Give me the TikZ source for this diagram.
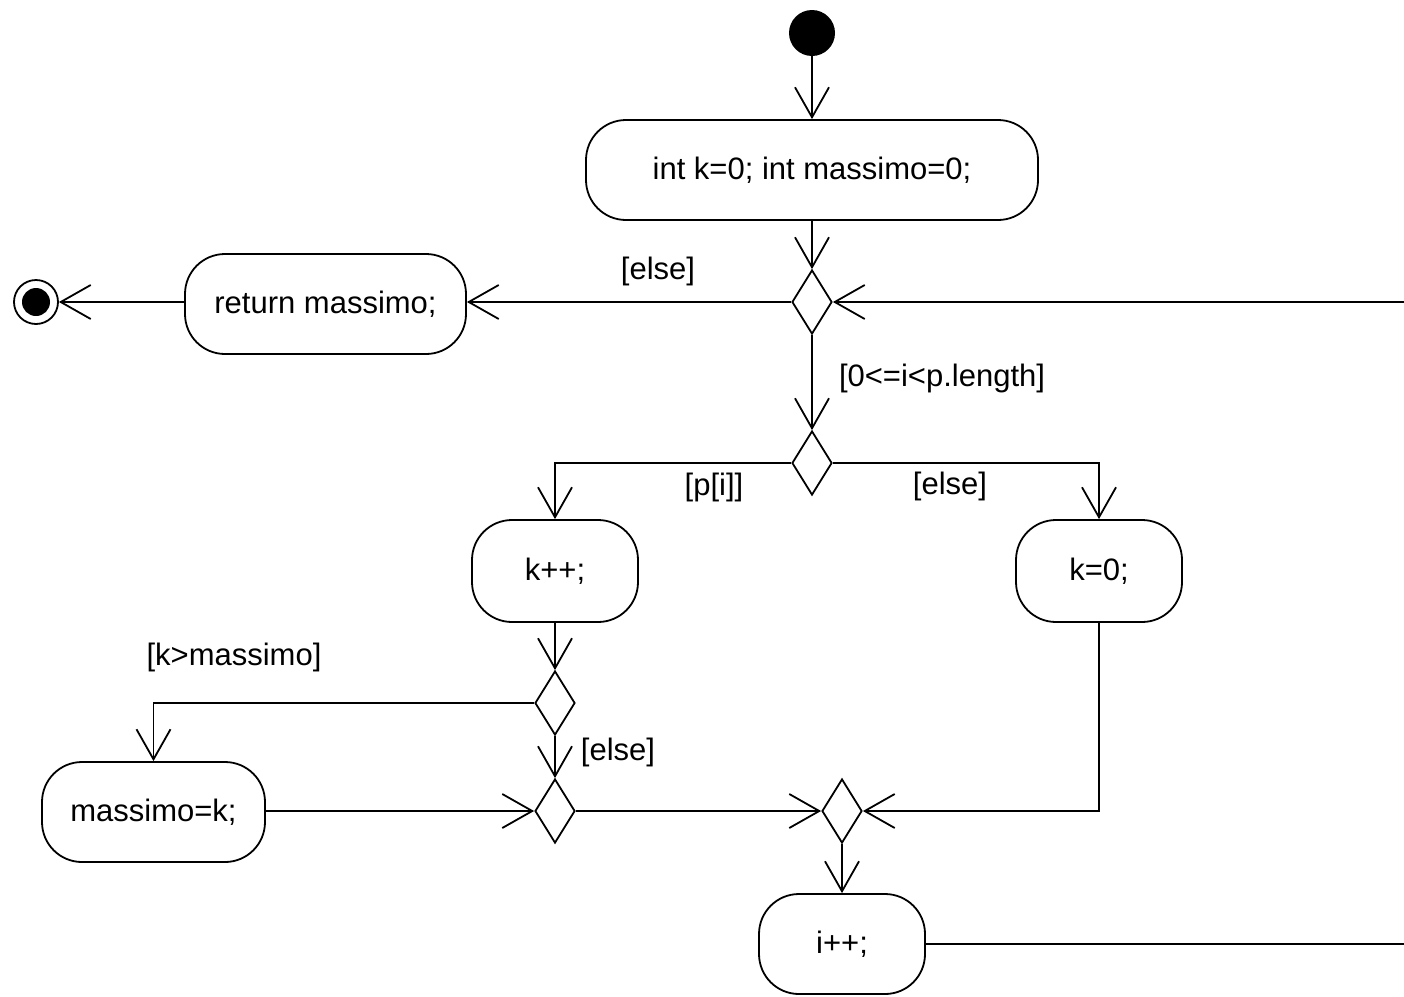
\documentclass[tikz,border=0pt]{standalone}
\usepackage{fontspec}
\setmainfont{Liberation Sans}
\usetikzlibrary{arrows.meta,shapes.geometric}
\begin{document}
\begin{tikzpicture}[x=1pt,y=-1pt,
  every node/.style={font=\fontsize{31}{34}\selectfont},
  act/.style={draw,line width=1.8pt,rounded corners=40pt,inner sep=0pt},
  dec/.style={draw,diamond,line width=1.8pt,inner sep=0pt,minimum width=40pt,minimum height=64pt},
  lbl/.style={inner sep=0pt},
  arr/.style={line width=1.8pt,-{Straight Barb[length=30pt,width=34pt,line width=1.8pt]}},
  ln/.style={line width=1.8pt}]
\useasboundingbox (0,0) rectangle (1404,996);
\clip (0,0) rectangle (1404,996);
\node[circle,fill=black,minimum size=46pt,inner sep=0pt] (start) at (812,33) {};
\node[act,minimum width=452pt,minimum height=100pt] (init) at (812,170) {int k=0; int massimo=0;};
\node[dec] (d1) at (812,302) {};
\node[act,minimum width=281pt,minimum height=100pt] (ret) at (325.5,304) {return massimo;};
\node[circle,draw,line width=1.8pt,minimum size=44pt,inner sep=0pt] (end) at (36,302) {};
\node[circle,fill=black,minimum size=28pt,inner sep=0pt] at (36,302) {};
\node[dec] (d2) at (812,463) {};
\node[act,minimum width=166pt,minimum height=102pt] (kpp) at (555,571) {k++;};
\node[act,minimum width=166pt,minimum height=102pt] (kz) at (1099,571) {k=0;};
\node[dec] (d3) at (555,703) {};
\node[act,minimum width=223pt,minimum height=100pt] (mk) at (153.5,812) {massimo=k;};
\node[dec] (d4) at (555,811) {};
\node[dec] (d5) at (842,811) {};
\node[act,minimum width=166pt,minimum height=100pt] (inc) at (842,944) {i++;};
\coordinate (R) at (1430,302);
\node[lbl] (l1) at (658,271) {[else]};
\node[lbl] (l2) at (942,378) {[0<=i<p.length]};
\node[lbl] (l3) at (714,487) {[p[i]]};
\node[lbl] (l4) at (950,486) {[else]};
\node[lbl] (l5) at (234,657) {[k>massimo]};
\node[lbl] (l6) at (618,752) {[else]};
\draw[arr] (start) -- (init);
\draw[arr] (init) -- (d1);
\draw[arr] (d1.west) -- (ret.east |- d1.west);
\draw[arr] (ret.west |- end) -- (end);
\draw[arr] (inc.east) -| (R) -- (d1.east);
\draw[arr] (d1) -- (d2);
\draw[arr] (d2.west) -| (kpp.north);
\draw[arr] (d2.east) -| (kz.north);
\draw[arr] (kpp) -- (d3);
\draw[arr] (d3.west) -| (mk.north);
\draw[arr] (d3) -- (d4);
\draw[arr] (mk.east |- d4.west) -- (d4.west);
\draw[arr] (d4.east) -- (d5.west);
\draw[arr] (kz.south) |- (d5.east);
\draw[arr] (d5) -- (inc);
\end{tikzpicture}
\end{document}
